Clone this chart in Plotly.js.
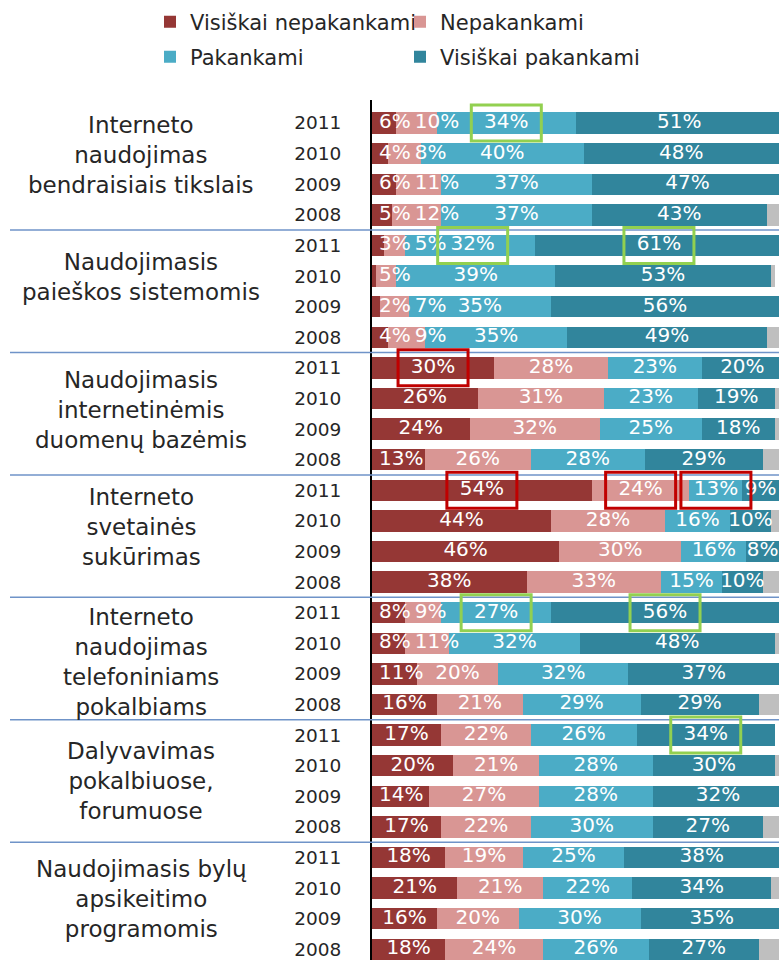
<!DOCTYPE html>
<html><head><meta charset="utf-8">
<script src="https://cdn.plot.ly/plotly-3.0.1.min.js"></script>
<style>html,body{margin:0;padding:0;background:#fff}</style>
</head><body><div id="chart" style="width:779px;height:960px"></div>
<script>
const FONT = 'DejaVu Sans, Verdana, sans-serif';

const groupNames = [
  'Interneto<br>naudojimas<br>bendraisiais tikslais',
  'Naudojimasis<br>paieškos sistemomis',
  'Naudojimasis<br>internetinėmis<br>duomenų bazėmis',
  'Interneto<br>svetainės<br>sukūrimas',
  'Interneto<br>naudojimas<br>telefoniniams<br>pokalbiams',
  'Dalyvavimas<br>pokalbiuose,<br>forumuose',
  'Naudojimasis bylų<br>apsikeitimo<br>programomis'
];
const years = ['2011', '2010', '2009', '2008'];
const seriesNames = ['Visiškai nepakankami', 'Nepakankami', 'Pakankami', 'Visiškai pakankami'];

// values per row: group by group, years 2011, 2010, 2009, 2008
const visiskaiNepakankami = [6,4,6,5, 3,1,2,4, 30,26,24,13, 54,44,46,38, 8,8,11,16, 17,20,14,17, 18,21,16,18];
const nepakankami        = [10,8,11,12, 5,5,7,9, 28,31,32,26, 24,28,30,33, 9,11,20,21, 22,21,27,22, 19,21,20,24];
const pakankami          = [34,40,37,37, 32,39,35,35, 23,23,25,28, 13,16,16,15, 27,32,32,29, 26,28,28,30, 25,22,30,26];
const visiskaiPakankami  = [51,48,47,43, 61,53,56,49, 20,19,18,29, 9,10,8,10, 56,48,37,29, 34,30,32,27, 38,34,35,27];
const kita               = [0,0,0,3, 0,1,0,3, 0,1,1,4, 0,2,0,4, 0,1,0,5, 0,1,0,4, 0,2,0,5];

// highlighted labels: [row, series index]
const highlightsGreen = [[0,2],[4,2],[4,3],[16,2],[16,3],[20,3]];
const highlightsRed   = [[8,0],[12,0],[12,1],[12,2]];

const series = [visiskaiNepakankami, nepakankami, pakankami, visiskaiPakankami];
const colors = ['#953735', '#D99694', '#4BACC6', '#31859C'];
const greyColor = '#BFBFBF';

const rows = [];
for (let g = 0; g < groupNames.length; g++)
  for (let k = 0; k < years.length; k++) rows.push(g * years.length + k);

const W = 779, H = 960, ML = 372, MT = 100;
const PX_PER_UNIT = (W - ML) / 100;
const LABEL_SIZE = 20;

// legend placement (container px): [x of item start, y centre]
const legendSlots = [[150, 22], [400, 22], [150, 57], [400, 57]];
const legendIds = ['legend', 'legend2', 'legend3', 'legend4'];

const BAR_W = 0.7;
const traces = series.map((vals, s) => ({
  type: 'bar', orientation: 'h', name: seriesNames[s],
  x: vals, y: rows, width: BAR_W,
  marker: {color: colors[s], line: {width: 0}},
  legend: legendIds[s],
  hovertemplate: '%{x}%<extra>' + seriesNames[s] + '</extra>'
}));
traces.push({
  type: 'bar', orientation: 'h', name: 'kita', x: kita, y: rows, width: BAR_W,
  marker: {color: greyColor, line: {width: 0}}, showlegend: false, hoverinfo: 'skip'
});

// value labels: centred on their segment, pushed right when they would collide
function textWidth(str) {
  let w = 0;
  for (const ch of str) w += (ch === '%' ? 0.95 : 0.636);
  return w * LABEL_SIZE;
}
const labelX = series.map(() => new Array(rows.length).fill(null));
rows.forEach(r => {
  let start = 0, prevRight = 3;
  series.forEach((vals, s) => {
    const v = vals[r];
    const cPx = (start + v / 2) * PX_PER_UNIT;
    start += v;
    if (v < 2) return;
    const w = textWidth(v + '%');
    const left = Math.max(cPx - w / 2, prevRight + 4);
    labelX[s][r] = (left + w / 2) / PX_PER_UNIT;
    prevRight = left + w;
  });
});
series.forEach((vals, s) => {
  const idx = rows.filter(r => labelX[s][r] !== null);
  traces.push({
    type: 'scatter', mode: 'text', x: idx.map(r => labelX[s][r]), y: idx,
    text: idx.map(r => vals[r] + '%'), textposition: 'middle center',
    textfont: {family: FONT, size: LABEL_SIZE, color: '#ffffff'},
    showlegend: false, hoverinfo: 'skip', cliponaxis: false
  });
});

const shapes = [];
// group separators
for (let g = 1; g < groupNames.length; g++) {
  const yb = g * years.length - 0.5;
  shapes.push({type: 'line', xref: 'paper', yref: 'y', x0: -(ML - 10) / (W - ML), x1: 1, y0: yb, y1: yb,
    line: {color: '#6F93C8', width: 1.5}});
}
function box(h, color) {
  const [row, s] = h;
  return {type: 'rect', xref: 'x', yref: 'y', xsizemode: 'pixel', ysizemode: 'pixel',
    xanchor: labelX[s][row], yanchor: row, x0: -35, x1: 35, y0: -18, y1: 18,
    line: {color: color, width: 3}, fillcolor: 'rgba(0,0,0,0)'};
}
highlightsGreen.forEach(h => shapes.push(box(h, '#92D050')));
highlightsRed.forEach(h => shapes.push(box(h, '#C00000')));

const labelShift = [14, 14, 4, 9, -3, 0, 4];
const annotations = groupNames.map((name, g) => ({
  xref: 'paper', yref: 'y', x: (141 - ML) / (W - ML), y: g * years.length + (years.length - 1) / 2,
  yshift: labelShift[g], text: name, showarrow: false, xanchor: 'center', yanchor: 'middle', align: 'center',
  font: {family: FONT, size: 23, color: '#262626'}
}));

const layout = {
  width: W, height: H,
  margin: {l: ML, r: 0, t: MT, b: 0, pad: 0},
  paper_bgcolor: '#ffffff', plot_bgcolor: '#ffffff',
  barmode: 'stack',
  font: {family: FONT, color: '#262626'},
  xaxis: {range: [0, 100], visible: false, fixedrange: true},
  yaxis: {range: [27.35, -0.752], tickvals: rows, ticktext: rows.map(r => years[r % years.length]),
    showgrid: false, zeroline: false, showline: true, linecolor: '#000000', linewidth: 2,
    ticks: '', ticklabelstandoff: 25, tickfont: {family: FONT, size: 18.5, color: '#262626'}, fixedrange: true},
  shapes: shapes,
  annotations: annotations,
  showlegend: true
};
legendIds.forEach((id, i) => {
  layout[id] = {
    orientation: 'h', xref: 'container', yref: 'container',
    x: legendSlots[i][0] / W, y: 1 - legendSlots[i][1] / H, xanchor: 'left', yanchor: 'middle',
    font: {family: FONT, size: 21, color: '#262626'}, bgcolor: 'rgba(0,0,0,0)', borderwidth: 0
  };
});

Plotly.newPlot('chart', traces, layout, {displayModeBar: false, staticPlot: true});
</script>
</body></html>
